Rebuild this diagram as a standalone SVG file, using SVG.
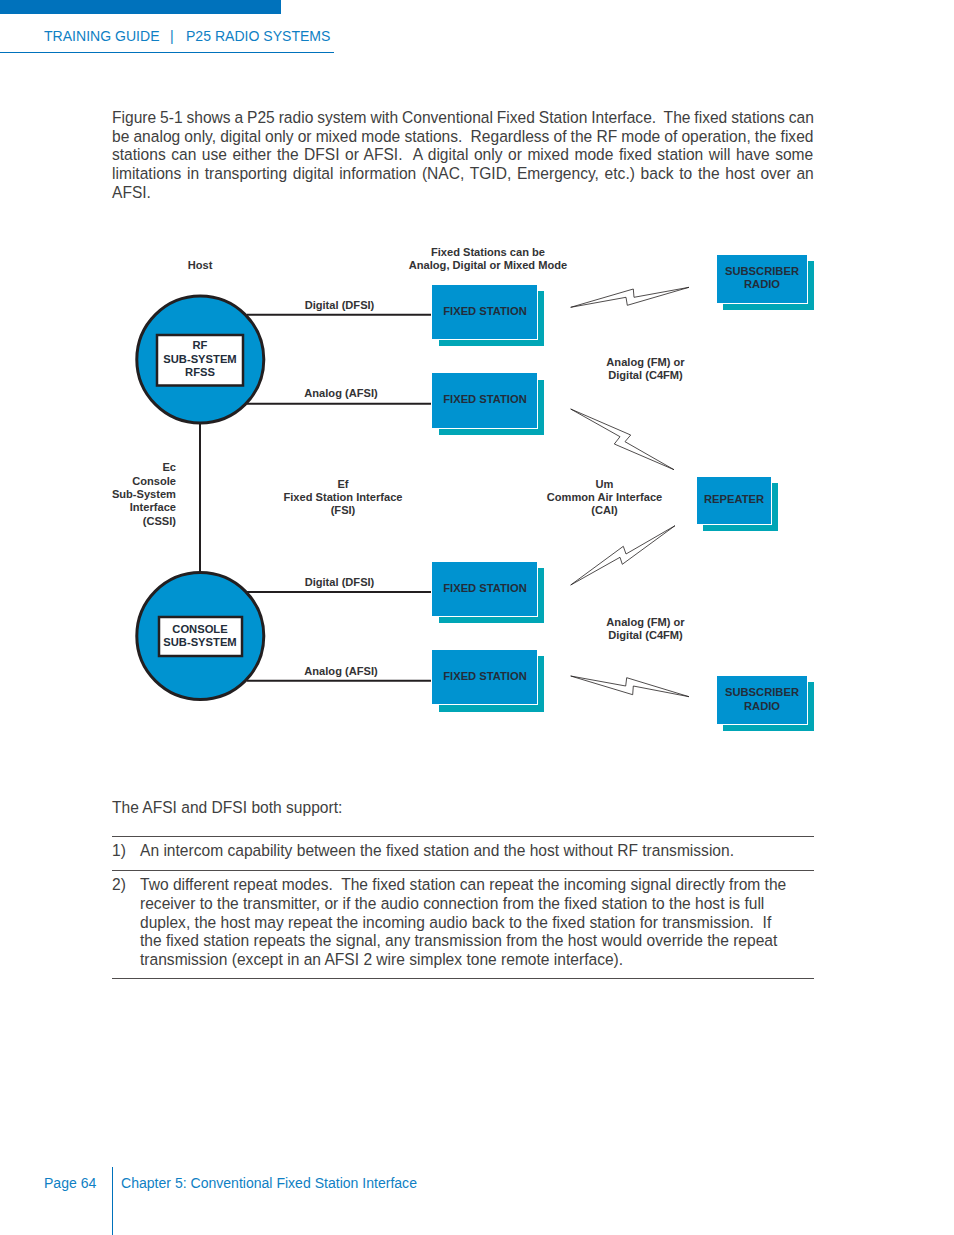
<svg xmlns="http://www.w3.org/2000/svg" width="954" height="1235" viewBox="0 0 954 1235">
<style>
text{font-family:"Liberation Sans",Arial,sans-serif}
.b{font-size:15.58px;fill:#3f3f41;white-space:pre}
.h{font-size:14.05px;fill:#0f7fc4}
.l{font-size:11.1px;font-weight:bold;fill:#333335;text-anchor:middle}
.r{text-anchor:end}
.n{font-size:11.2px;font-weight:bold;fill:#232d3a;text-anchor:middle}
.f{fill:#0093d0;stroke:#fff;stroke-width:1}
.s{fill:#00a6b6}
.c{fill:#0093d0;stroke:#231f20;stroke-width:3}
.w{fill:#fff;stroke:#231f20;stroke-width:2.5}
.k{stroke:#231f20;stroke-width:2;fill:none}
.t{fill:#fff;stroke:#231f20;stroke-width:.8;stroke-linejoin:miter}
.g{stroke:#231f20;stroke-width:.8}
</style>
<g id="header">
<rect x="0" y="0" width="281" height="14" fill="#0072bc"/>
<line x1="0" y1="52.5" x2="334" y2="52.5" stroke="#0072bc" stroke-width="1"/>
<text class="h" x="44" y="41">TRAINING GUIDE</text>
<text class="h" x="170" y="41">|</text>
<text class="h" x="186" y="41">P25 RADIO SYSTEMS</text>
</g>
<g id="intro">
<text class="b" x="112" y="123" word-spacing="-.44">Figure 5-1 shows a P25 radio system with Conventional Fixed Station Interface.  The fixed stations can</text>
<text class="b" x="112" y="142" word-spacing="-.22">be analog only, digital only or mixed mode stations.  Regardless of the RF mode of operation, the fixed</text>
<text class="b" x="112" y="160" word-spacing="1.18">stations can use either the DFSI or AFSI.  A digital only or mixed mode fixed station will have some</text>
<text class="b" x="112" y="179" word-spacing="1.37">limitations in transporting digital information (NAC, TGID, Emergency, etc.) back to the host over an</text>
<text class="b" x="112" y="198">AFSI.</text>
</g>
<g id="connectors">
<path class="k" d="M247 314.7H431M247 403.7H431M247 592H432M247 680.7H432M200 424V572"/>
<path class="t" d="M570.7 307.3L633.3 289L634 297.3L689 287.3L627.3 305.3L626 297.3Z"/>
<path class="t" d="M570.7 409L630.7 435L625 441.7L674 469.7L614.3 444L620 436.7Z"/>
<path class="t" d="M675 525.7L626 554L623.3 546.3L570.7 585L620 557.3L622.3 564.3Z"/>
<path class="t" d="M570.7 676L625.7 686L626.7 677.7L689 696.7L633.3 686L632.7 694.7Z"/>
</g>
<g id="rfss">
<circle class="c" cx="200.3" cy="359.5" r="63.5"/>
<rect class="w" x="157" y="335" width="86" height="50.5"/>
<text class="n" x="200" y="349">RF</text>
<text class="n" x="200" y="363">SUB-SYSTEM</text>
<text class="n" x="200" y="376">RFSS</text>
</g>
<g id="console">
<circle class="c" cx="200.3" cy="636" r="63.5"/>
<rect class="w" x="159" y="617" width="83" height="39"/>
<text class="n" x="200" y="633">CONSOLE</text>
<text class="n" x="200" y="646">SUB-SYSTEM</text>
</g>
<g id="fs1"><rect class="s" x="439" y="291" width="105" height="55"/><rect class="f" x="431.5" y="284.5" width="106" height="55"/><text class="n" x="485" y="315">FIXED STATION</text></g>
<g id="fs2"><rect class="s" x="439" y="380" width="105" height="55"/><rect class="f" x="431.5" y="372.5" width="106" height="56"/><text class="n" x="485" y="403">FIXED STATION</text></g>
<g id="fs3"><rect class="s" x="439" y="568" width="105" height="55"/><rect class="f" x="431.5" y="561.5" width="106" height="55"/><text class="n" x="485" y="592">FIXED STATION</text></g>
<g id="fs4"><rect class="s" x="439" y="656" width="105" height="56"/><rect class="f" x="431.5" y="649.5" width="106" height="55"/><text class="n" x="485" y="680">FIXED STATION</text></g>
<g id="sub1"><rect class="s" x="723" y="261" width="91" height="49"/><rect class="f" x="716.5" y="254.5" width="91" height="49"/><text class="n" x="762" y="275">SUBSCRIBER</text><text class="n" x="762" y="288">RADIO</text></g>
<g id="sub2"><rect class="s" x="723" y="682" width="91" height="49"/><rect class="f" x="716.5" y="675.5" width="91" height="49"/><text class="n" x="762" y="696">SUBSCRIBER</text><text class="n" x="762" y="710">RADIO</text></g>
<g id="repeater"><rect class="s" x="703" y="483" width="75" height="48"/><rect class="f" x="696.5" y="476.5" width="75" height="48"/><text class="n" x="734" y="503">REPEATER</text></g>
<g id="labels">
<text class="l" x="200" y="269">Host</text>
<text class="l" x="488" y="256">Fixed Stations can be</text>
<text class="l" x="488" y="269">Analog, Digital or Mixed Mode</text>
<text class="l" x="339.500" y="309">Digital (DFSI)</text>
<text class="l" x="341" y="397">Analog (AFSI)</text>
<text class="l" x="339.500" y="586">Digital (DFSI)</text>
<text class="l" x="341" y="675">Analog (AFSI)</text>
<text class="l" x="645.500" y="366">Analog (FM) or</text>
<text class="l" x="645.500" y="379">Digital (C4FM)</text>
<text class="l" x="645.500" y="626">Analog (FM) or</text>
<text class="l" x="645.500" y="639">Digital (C4FM)</text>
<text class="l r" x="176" y="471">Ec</text>
<text class="l r" x="176" y="485">Console</text>
<text class="l r" x="176" y="498">Sub-System</text>
<text class="l r" x="176" y="511">Interface</text>
<text class="l r" x="176" y="525">(CSSI)</text>
<text class="l" x="343" y="488">Ef</text>
<text class="l" x="343" y="501">Fixed Station Interface</text>
<text class="l" x="343" y="514">(FSI)</text>
<text class="l" x="604.500" y="488">Um</text>
<text class="l" x="604.500" y="501">Common Air Interface</text>
<text class="l" x="604.500" y="514">(CAI)</text>
</g>
<g id="support">
<text class="b" x="112" y="813">The AFSI and DFSI both support:</text>
<path class="g" d="M112 836.500H814M112 870.500H814M112 978.500H814" fill="none"/>
<text class="b" x="112" y="856">1)</text>
<text class="b" x="140" y="856">An intercom capability between the fixed station and the host without RF transmission.</text>
<text class="b" x="112" y="890">2)</text>
<text class="b" x="140" y="890">Two different repeat modes.  The fixed station can repeat the incoming signal directly from the</text>
<text class="b" x="140" y="909">receiver to the transmitter, or if the audio connection from the fixed station to the host is full</text>
<text class="b" x="140" y="928">duplex, the host may repeat the incoming audio back to the fixed station for transmission.  If</text>
<text class="b" x="140" y="946">the fixed station repeats the signal, any transmission from the host would override the repeat</text>
<text class="b" x="140" y="965">transmission (except in an AFSI 2 wire simplex tone remote interface).</text>
</g>
<g id="footer">
<line x1="112.500" y1="1167" x2="112.500" y2="1235" stroke="#0072bc" stroke-width="1"/>
<text class="h" x="44" y="1188">Page 64</text>
<text class="h" x="121" y="1188">Chapter 5: Conventional Fixed Station Interface</text>
</g>
</svg>
